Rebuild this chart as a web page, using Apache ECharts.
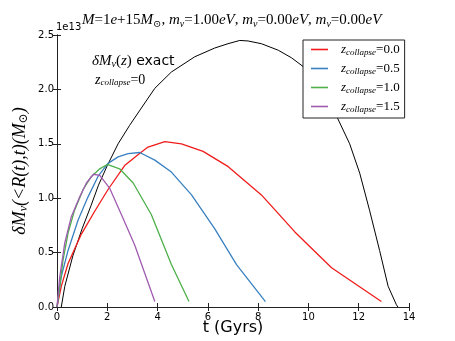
<!DOCTYPE html>
<html>
<head>
<meta charset="utf-8">
<script src="https://cdn.jsdelivr.net/npm/echarts@6/dist/echarts.min.js"></script>
<style>
  html, body { margin: 0; padding: 0; background: #fff; }
  #container-main { width: 455px; height: 341px; }
</style>
</head>
<body>
<div id="container-main"></div>
<script>
// values in units of 1e13 solar masses, t in Gyrs
var xTicks = [0, 2, 4, 6, 8, 10, 12, 14];
var yTicks = [0.0, 0.5, 1.0, 1.5, 2.0, 2.5];

var exactT = [0.17,0.31,0.63,1.0,1.35,1.65,2.0,2.43,2.89,3.3,3.89,4.55,5.48,6.27,6.8,7.27,7.6,8.13,8.8,9.33,9.79,11.15,11.64,12.04,12.43,12.83,13.17,13.5,13.56];
var exactV = [0,0.19,0.47,0.72,0.93,1.12,1.30,1.50,1.67,1.81,2.01,2.16,2.30,2.38,2.42,2.45,2.445,2.42,2.36,2.29,2.21,1.74,1.50,1.23,0.89,0.52,0.19,0.02,0];

var z00T = [0,0.17,0.44,0.97,1.5,2.03,2.69,3.22,3.62,4.29,4.95,5.81,6.81,8.13,9.46,10.92,12.9];
var z00V = [0,0.19,0.40,0.67,0.88,1.08,1.30,1.40,1.47,1.52,1.50,1.43,1.29,1.03,0.69,0.36,0.05];

var z05T = [0,0.17,0.44,0.84,1.23,1.63,2.03,2.43,2.83,3.29,3.89,4.55,5.35,6.27,7.14,8.29];
var z05V = [0,0.28,0.52,0.80,1.01,1.20,1.32,1.38,1.41,1.42,1.35,1.24,1.03,0.72,0.39,0.05];

var z10T = [0,0.24,0.44,0.70,1.04,1.37,1.70,2.0,2.49,3.03,3.75,4.55,5.25];
var z10V = [0,0.43,0.68,0.89,1.08,1.20,1.27,1.31,1.27,1.14,0.85,0.39,0.05];

var z15T = [0,0.11,0.31,0.57,0.90,1.17,1.45,1.70,2.1,2.56,3.09,3.49,3.89];
var z15V = [0,0.28,0.59,0.83,1.01,1.14,1.22,1.21,1.09,0.85,0.57,0.31,0.05];

var zNames = ['0.0', '0.5', '1.0', '1.5'];
var colors = ['#f01c1c', '#3a80c0', '#4db04a', '#a05cb0'];

function pairs(t, v) {
  var out = [];
  for (var i = 0; i < t.length; i++) out.push([t[i], v[i]]);
  return out;
}

var serif = '"Liberation Serif", "DejaVu Serif", serif';
var sans = '"DejaVu Sans", sans-serif';

function drawChart(element) {
  var dom = document.getElementById('container-' + element);
  var myChart = echarts.init(dom, null, {renderer: 'canvas'});
  var it = {fontFamily: serif, fontStyle: 'italic', fontWeight: 'normal', fontSize: 15, color: '#000'};
  var rm = {fontFamily: serif, fontWeight: 'normal', fontSize: 15, color: '#000'};
  var sb = {fontFamily: serif, fontStyle: 'italic', fontWeight: 'normal', fontSize: 10, color: '#000', padding: [7, 0, 0, 0]};
  var axisCommon = {
    axisLine: {show: true, lineStyle: {color: '#222', width: 1}},
    axisTick: {show: true, inside: true, length: 4, lineStyle: {color: '#222'}},
    splitLine: {show: false}
  };
  var series = [{
    name: 'exact', type: 'line', data: pairs(exactT, exactV), symbol: 'none',
    lineStyle: {color: '#000', width: 1}, itemStyle: {color: '#000'}, z: 2
  }];
  var zT = [z00T, z05T, z10T, z15T], zV = [z00V, z05V, z10V, z15V];
  for (var k = 0; k < 4; k++) {
    series.push({
      name: zNames[k], type: 'line', data: pairs(zT[k], zV[k]), symbol: 'none',
      lineStyle: {color: colors[k], width: 1.3}, itemStyle: {color: colors[k]}, z: 3
    });
  }
  var option = {
    animation: false,
    backgroundColor: '#fff',
    title: {
      text: '{i|M}{r|=1}{i|e}{r|+15}{i|M}{s|⊙}{r|, }{i|m}{s|ν}{r|=1.00}{i|eV}{r|, }{i|m}{s|ν}{r|=0.00}{i|eV}{r|, }{i|m}{s|ν}{r|=0.00}{i|eV}',
      left: 82, top: 12, padding: 0,
      textStyle: {fontWeight: 'normal', rich: {i: it, r: rm, s: sb}}
    },
    grid: {left: 57, right: 46, top: 35, bottom: 34, containLabel: false, outerBoundsMode: 'none'},
    legend: {
      data: zNames, orient: 'vertical', left: 303, top: 40,
      padding: [3, 5, 4, 8], itemGap: 5,
      backgroundColor: '#fff', borderColor: '#222', borderWidth: 1, borderRadius: 0,
      icon: 'rect', itemWidth: 17, itemHeight: 1.6,
      formatter: function (name) { return '{z|z}{c|collapse}{e|=' + name + '}'; },
      textStyle: {
        padding: [0, 0, 0, 8],
        rich: {
          z: {fontFamily: serif, fontStyle: 'italic', fontSize: 13, color: '#000', lineHeight: 14},
          c: {fontFamily: serif, fontStyle: 'italic', fontSize: 9, color: '#000', padding: [6, 0, 0, 0]},
          e: {fontFamily: serif, fontSize: 13, color: '#000'}
        }
      }
    },
    xAxis: [Object.assign({
      type: 'value', min: 0, max: 14, interval: 2, position: 'bottom',
      name: 't (Gyrs)', nameLocation: 'middle', nameGap: 13, nameMoveOverlap: false,
      nameTextStyle: {fontFamily: sans, fontSize: 16, color: '#000', verticalAlign: 'top'},
      axisLabel: {fontFamily: sans, fontSize: 10, color: '#000', margin: 5}
    }, axisCommon), Object.assign({
      type: 'value', min: 0, max: 14, interval: 2, position: 'top',
      axisLabel: {show: false}
    }, axisCommon)],
    yAxis: [Object.assign({
      type: 'value', min: 0, max: 2.5, interval: 0.5, position: 'left',
      name: '{i|δM}{s|ν}{i|(<R(t),t)(M}{s|⊙}{i|)}', nameLocation: 'middle', nameGap: 27, nameRotate: 90,
      nameMoveOverlap: false,
      nameTextStyle: {rich: {
        i: {fontFamily: serif, fontStyle: 'italic', fontSize: 18, color: '#000'},
        s: {fontFamily: serif, fontStyle: 'italic', fontSize: 12, color: '#000', padding: [8, 0, 0, 0]}
      }},
      axisLabel: {fontFamily: sans, fontSize: 10, color: '#000', margin: 3,
        formatter: function (v) { return v.toFixed(1); }}
    }, axisCommon), Object.assign({
      type: 'value', min: 0, max: 2.5, interval: 0.5, position: 'right',
      axisLabel: {show: false}
    }, axisCommon)],
    graphic: [
      {type: 'text', left: 56, top: 22, style: {text: '1e13', font: '10px "DejaVu Sans"', fill: '#000'}},
      {type: 'text', left: 92, top: 54, style: {
        text: '{i|δM}{s|ν}{r|(}{i|z}{r|)}{x| exact}',
        rich: {
          i: {fontFamily: serif, fontStyle: 'italic', fontSize: 15, fill: '#000'},
          r: {fontFamily: serif, fontSize: 15, fill: '#000'},
          s: {fontFamily: serif, fontStyle: 'italic', fontSize: 10, fill: '#000', padding: [6, 0, 0, 0]},
          x: {fontFamily: sans, fontSize: 14, fill: '#000'}
        }}},
      {type: 'text', left: 95, top: 73, style: {
        text: '{z|z}{c|collapse}{e|=0}',
        rich: {
          z: {fontFamily: serif, fontStyle: 'italic', fontSize: 14, fill: '#000'},
          c: {fontFamily: serif, fontStyle: 'italic', fontSize: 9, fill: '#000', padding: [6, 0, 0, 0]},
          e: {fontFamily: serif, fontSize: 14, fill: '#000'}
        }}}
    ],
    series: series
  };
  myChart.setOption(option, true);
}

drawChart('main');
</script>
</body>
</html>
